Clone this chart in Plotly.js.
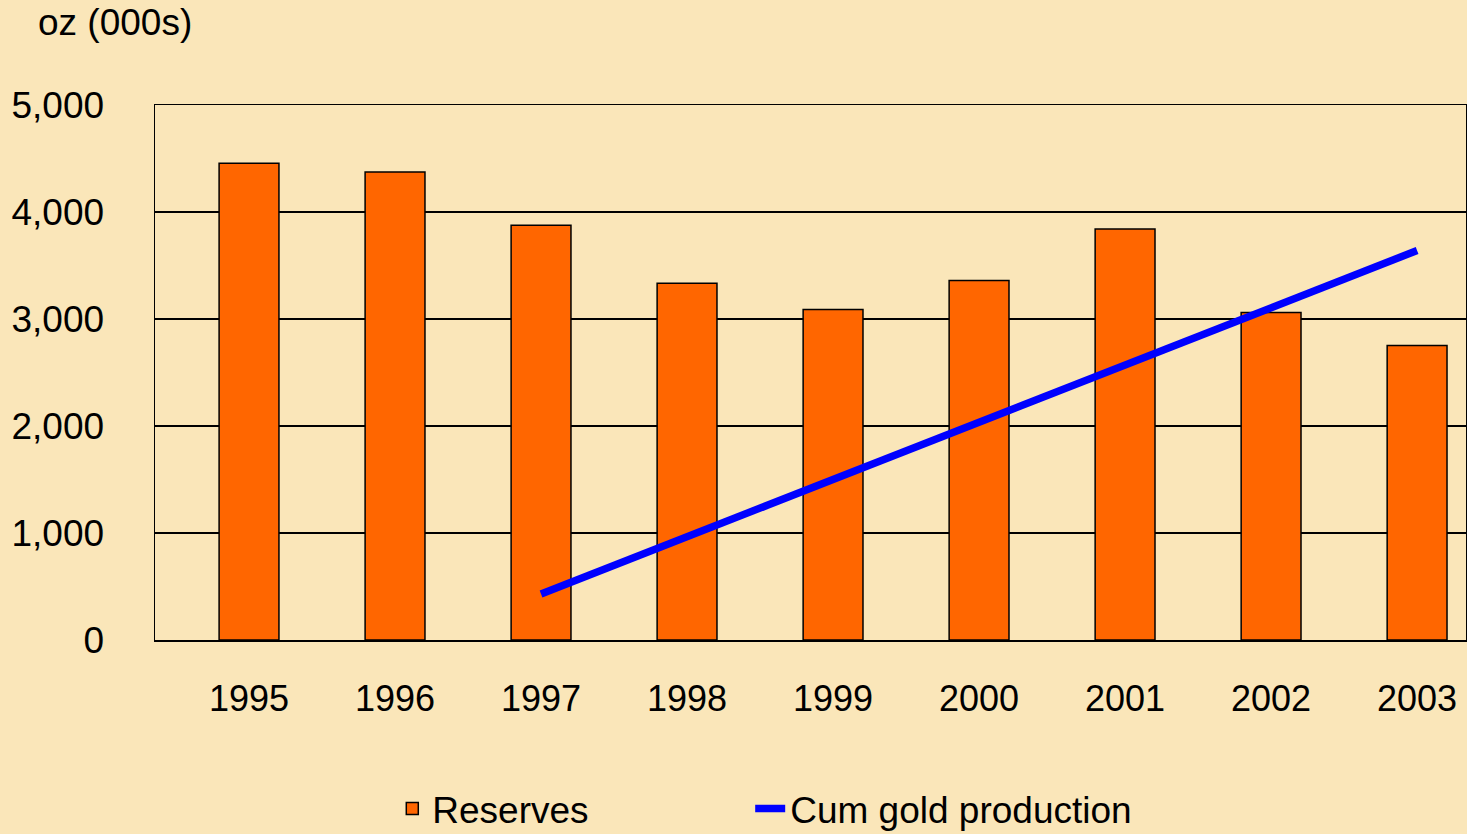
<!DOCTYPE html>
<html>
<head>
<meta charset="utf-8">
<script src="https://cdn.plot.ly/plotly-3.0.1.min.js"></script>
<style>html,body{margin:0;padding:0;background:#FAE6B9;}#chart{width:1467px;height:834px;}</style>
</head>
<body>
<div id="chart"></div>
<script>
const years = ['1995','1996','1997','1998','1999','2000','2001','2002','2003'];
const reserves = [4455, 4375, 3877, 3333, 3088, 3360, 3840, 3060, 2752];
const prodYears = ['1997','1998','1999','2000','2001','2002','2003'];
const cumProduction = [430, 965, 1500, 2035, 2570, 3105, 3640];
const yTicks = [0, 1000, 2000, 3000, 4000, 5000];
const yTickText = ['0', '1,000', '2,000', '3,000', '4,000', '5,000'];

const idx = y => years.indexOf(y);
const font = 'Liberation Sans, Arial, sans-serif';

const traces = [
  {
    type: 'bar', name: 'Reserves', legend: 'legend',
    x: years.map(idx), y: reserves,
    width: 0.41,
    marker: {color: '#FF6600', line: {color: '#000000', width: 1.5}}
  },
  {
    type: 'scatter', mode: 'lines', name: 'Cum gold production', legend: 'legend2',
    x: prodYears.map(idx), y: cumProduction,
    line: {color: '#0000FF', width: 7.5}
  }
];

const legendBase = {orientation: 'h', xanchor: 'left', yref: 'container', y: 1 - 809/834, yanchor: 'middle', font: {size: 37, family: font, color: '#000'}, bgcolor: 'rgba(0,0,0,0)'};

const layout = {
  width: 1467, height: 834,
  paper_bgcolor: '#FAE6B9', plot_bgcolor: '#FAE6B9',
  margin: {l: 155, r: 1, t: 105, b: 194},
  font: {family: font, color: '#000000', size: 37},
  title: {text: 'oz (000s)', xref: 'container', yref: 'container', x: 38/1467, xanchor: 'left', y: 1 - 22/834, yanchor: 'middle', font: {family: font, size: 37, color: '#000'}},
  showlegend: true,
  legend: Object.assign({}, legendBase, {x: 0.181}),
  legend2: Object.assign({}, legendBase, {x: 0.454}),
  xaxis: {
    range: [-0.644, 8.335],
    tickmode: 'array', tickvals: years.map(idx), ticktext: years,
    showgrid: false, zeroline: false, automargin: false,
    showline: true, linecolor: '#000', linewidth: 1.5, mirror: true,
    ticks: '', ticklabelstandoff: 26,
    tickfont: {size: 36, family: font}
  },
  yaxis: {
    range: [0, 5000],
    tickmode: 'array', tickvals: yTicks, ticktext: yTickText,
    showgrid: true, gridcolor: '#000', gridwidth: 1.5,
    zeroline: false, automargin: false,
    showline: true, linecolor: '#000', linewidth: 1.5, mirror: true,
    ticks: '', ticklabelstandoff: 42,
    tickfont: {size: 37, family: font}
  },
  bargap: 0.5
};

Plotly.newPlot('chart', traces, layout, {displayModeBar: false, staticPlot: true});
</script>
</body>
</html>
